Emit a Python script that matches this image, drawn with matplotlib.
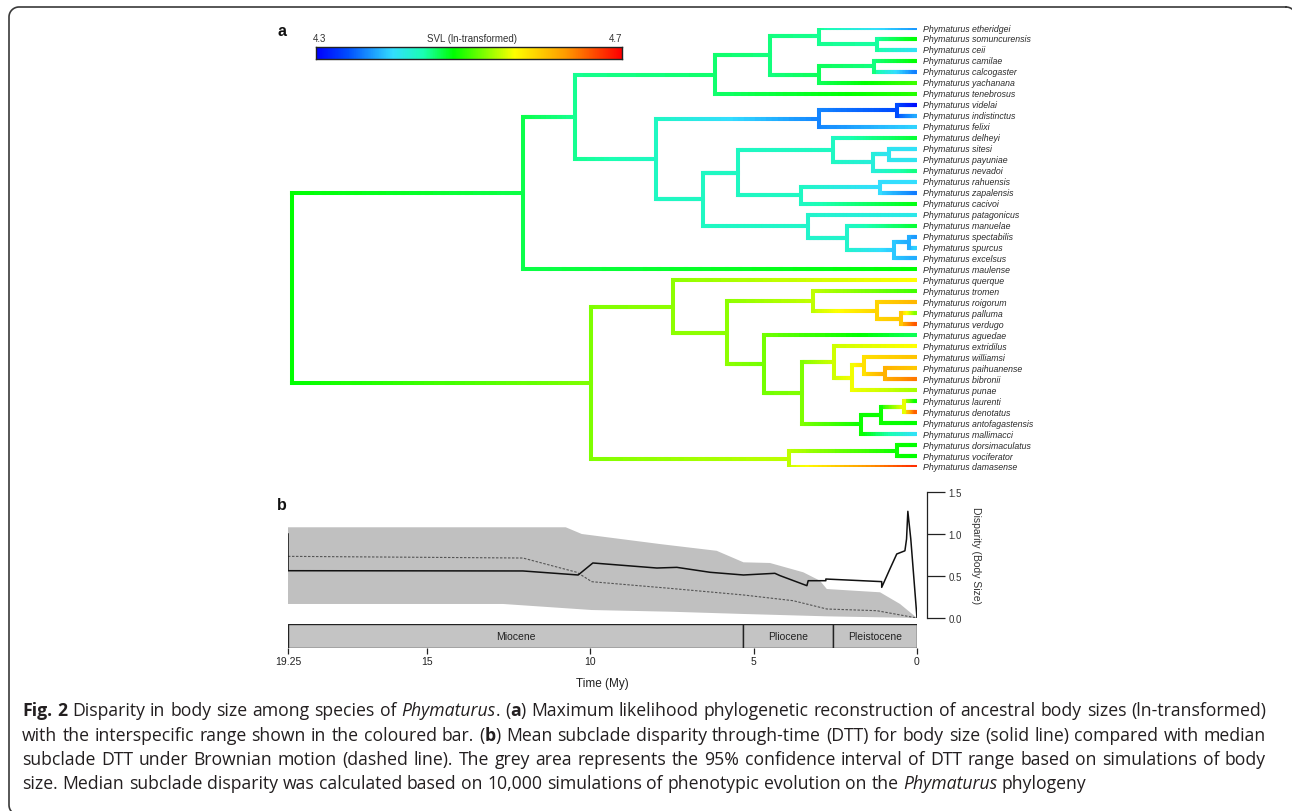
import numpy as np
import matplotlib
matplotlib.use("Agg")
import matplotlib.pyplot as plt
from matplotlib.collections import LineCollection
from matplotlib.colors import LinearSegmentedColormap, Normalize

plt.rcParams['font.family'] = ['Liberation Sans', 'DejaVu Sans']

W, H = 1292, 812

# ---------------- panel a : tree ----------------
tips = ["etheridgei", "somuncurensis", "ceii", "camilae", "calcogaster", "yachanana",
        "tenebrosus", "videlai", "indistinctus", "felixi", "delheyi", "sitesi", "payuniae",
        "nevadoi", "rahuensis", "zapalensis", "cacivoi", "patagonicus", "manuelae",
        "spectabilis", "spurcus", "excelsus", "maulense", "querque", "tromen", "roigorum",
        "palluma", "verdugo", "aguedae", "extridilus", "williamsi", "paihuanense",
        "bibronii", "punae", "laurenti", "denotatus", "antofagastensis", "mallimacci",
        "dorsimaculatus", "vociferator", "damasense"]
tip_svl = [4.372, 4.48, 4.404, 4.48, 4.36, 4.50, 4.492, 4.308, 4.38, 4.396, 4.468,
           4.404, 4.408, 4.452, 4.40, 4.36, 4.476, 4.412, 4.468, 4.372, 4.396, 4.38,
           4.48, 4.56, 4.50, 4.608, 4.52, 4.66, 4.46, 4.56, 4.60, 4.596, 4.644, 4.532,
           4.48, 4.66, 4.48, 4.404, 4.48, 4.48, 4.68]

# internal nodes: name, child 1, child 2, age (My), reconstructed SVL
nodes = [
    ("G", "somuncurensis", "ceii", 1.22, 4.444),
    ("F", "etheridgei", "G", 3.00, 4.448),
    ("I", "camilae", "calcogaster", 1.32, 4.452),
    ("H", "I", "yachanana", 3.00, 4.460),
    ("E", "F", "H", 4.50, 4.452),
    ("D", "E", "tenebrosus", 6.18, 4.456),
    ("L", "videlai", "indistinctus", 0.61, 4.340),
    ("K", "L", "felixi", 3.00, 4.364),
    ("P", "sitesi", "payuniae", 0.86, 4.408),
    ("O", "P", "nevadoi", 1.35, 4.420),
    ("N", "delheyi", "O", 2.57, 4.432),
    ("R", "rahuensis", "zapalensis", 1.13, 4.400),
    ("Q", "R", "cacivoi", 3.55, 4.432),
    ("M", "N", "Q", 5.48, 4.432),
    ("V", "spectabilis", "spurcus", 0.24, 4.380),
    ("U", "V", "excelsus", 0.70, 4.392),
    ("T", "manuelae", "U", 2.14, 4.428),
    ("S", "patagonicus", "T", 3.34, 4.428),
    ("J", "M", "S", 6.55, 4.432),
    ("C", "K", "J", 7.99, 4.432),
    ("B", "D", "C", 10.47, 4.448),
    ("A", "B", "maulense", 12.06, 4.464),
    ("AC", "palluma", "verdugo", 0.49, 4.596),
    ("AB", "roigorum", "AC", 1.22, 4.588),
    ("AA", "tromen", "AB", 3.18, 4.540),
    ("AI", "paihuanense", "bibronii", 0.98, 4.612),
    ("AH", "williamsi", "AI", 1.62, 4.580),
    ("AG", "AH", "punae", 1.99, 4.556),
    ("AF", "extridilus", "AG", 2.54, 4.544),
    ("AL", "laurenti", "denotatus", 0.40, 4.552),
    ("AK", "AL", "antofagastensis", 1.10, 4.484),
    ("AJ", "AK", "mallimacci", 1.71, 4.484),
    ("AE", "AF", "AJ", 3.52, 4.520),
    ("AD", "aguedae", "AE", 4.68, 4.516),
    ("Z", "AA", "AD", 5.81, 4.524),
    ("X", "querque", "Z", 7.47, 4.524),
    ("Y2", "dorsimaculatus", "vociferator", 0.61, 4.484),
    ("Y", "Y2", "damasense", 3.92, 4.540),
    ("W", "X", "Y", 9.98, 4.520),
    ("root", "A", "W", 19.13, 4.480),
]

# ---------------- panel b : DTT ----------------
dtt_time = [19.25, 19.25, 12.06, 10.37, 9.92, 7.96, 7.35, 6.33, 5.31, 4.35, 4.19, 3.37,
            3.33, 2.79, 2.79, 1.08, 1.08, 0.83, 0.62, 0.37, 0.32, 0.28, 0.19, 0.0]
dtt_obs = [1.0, 0.563, 0.56, 0.512, 0.655, 0.595, 0.603, 0.544, 0.512, 0.532, 0.504, 0.385,
           0.444, 0.444, 0.464, 0.433, 0.365, 0.583, 0.762, 0.80, 0.94, 1.27, 0.94, 0.0]
bm_time = [19.25, 12.06, 10.41, 9.95, 7.56, 5.31, 3.79, 2.76, 1.23, 0.0]
bm_median = [0.734, 0.714, 0.544, 0.432, 0.353, 0.274, 0.206, 0.107, 0.087, 0.0]
ci_time_up = [19.25, 10.75, 10.26, 7.86, 6.13, 5.31, 4.5, 3.48, 2.97, 2.76, 1.13, 0.52, 0.0]
ci_up = [1.08, 1.08, 1.0, 0.88, 0.80, 0.663, 0.655, 0.544, 0.444, 0.345, 0.306, 0.167, 0.0]
ci_time_lo = [19.25, 12.67, 9.95, 7.56, 5.31, 2.76, 0.0]
ci_lo = [0.167, 0.167, 0.095, 0.075, 0.048, 0.02, 0.0]

epochs = ["Miocene", "Pliocene", "Pleistocene"]
epoch_start = [19.25, 5.33, 2.58]
epoch_end = [5.33, 2.58, 0.0]
time_ticks = [19.25, 15, 10, 5, 0]

svl_min, svl_max = 4.3, 4.7

cmap = LinearSegmentedColormap.from_list("svl", [
    (0.0, (0.0, 0.0, 1.0)), (0.10, (0.0, 0.3, 1.0)), (0.25, (0.2, 0.87, 1.0)),
    (0.35, (0.1, 1.0, 0.7)), (0.45, (0.0, 1.0, 0.0)), (0.65, (1.0, 1.0, 0.0)),
    (0.82, (1.0, 0.6, 0.0)), (1.0, (1.0, 0.0, 0.0))])
norm = Normalize(svl_min, svl_max)

fig = plt.figure(figsize=(W / 100, H / 100), dpi=100)

# overlay in pixel units for frame / caption
ov = fig.add_axes([0, 0, 1, 1])
ov.set_xlim(0, W)
ov.set_ylim(H, 0)
ov.axis("off")

# rounded figure frame, right and bottom sides fall just outside the canvas
r = 10
x0, y0, x1, y1 = 9, 8, 1296, 816
th = np.linspace(0, np.pi / 2, 20)
fx_, fy_ = [], []
for cx, cy, a0 in [(x1 - r, y0 + r, -np.pi / 2), (x1 - r, y1 - r, 0),
                   (x0 + r, y1 - r, np.pi / 2), (x0 + r, y0 + r, np.pi)]:
    fx_.extend(cx + r * np.cos(a0 + th))
    fy_.extend(cy + r * np.sin(a0 + th))
fx_.append(fx_[0])
fy_.append(fy_[0])
ov.plot(fx_, fy_, color="#3a3a3a", lw=1.2, clip_on=False)


def fx(px):
    return px / W


def fy(py):
    return 1 - py / H


# --- tree
ax = fig.add_axes([fx(288), fy(468), fx(629), (468 - 29) / H])
ax.set_xlim(19.25, 0)
ax.set_ylim(len(tips) - 1, 0)
ax.axis("off")

ypos = {t: i for i, t in enumerate(tips)}
age = {t: 0.0 for t in tips}
val = dict(zip(tips, tip_svl))
for name, c1, c2, a, v in nodes:
    ypos[name] = (ypos[c1] + ypos[c2]) / 2
    age[name] = a
    val[name] = v

hsegs, hvals, vsegs, vvals = [], [], [], []
for name, c1, c2, a, v in nodes:
    for c in (c1, c2):
        xs = np.linspace(a, age[c], 30)
        vs = np.linspace(v, val[c], 30)
        for k in range(len(xs) - 1):
            hsegs.append([(xs[k], ypos[c]), (xs[k + 1], ypos[c])])
            hvals.append((vs[k] + vs[k + 1]) / 2)
    vsegs.append([(a, ypos[c1]), (a, ypos[c2])])
    vvals.append(v)

lc = LineCollection(hsegs, cmap=cmap, norm=norm, linewidths=2.9, capstyle="projecting")
lc.set_array(np.array(hvals))
ax.add_collection(lc)
lc2 = LineCollection(vsegs, cmap=cmap, norm=norm, linewidths=2.9, capstyle="projecting")
lc2.set_array(np.array(vvals))
ax.add_collection(lc2)

for t in tips:
    ax.annotate("Phymaturus " + t, (0, ypos[t]), xytext=(4, 0), textcoords="offset points",
                va="center", ha="left", fontsize=6.3, fontstyle="italic", color="#2a2a2a",
                family=["Liberation Sans Narrow", "Liberation Sans"], annotation_clip=False)

# --- colour bar
cax = fig.add_axes([fx(316), fy(60), fx(306), 12 / H])
cax.imshow(np.linspace(svl_min, svl_max, 400)[None, :], cmap=cmap, norm=norm,
           extent=[svl_min, svl_max, 0, 1], aspect="auto")
cax.set_xticks([])
cax.set_yticks([])
for s in cax.spines.values():
    s.set_linewidth(1.0)
    s.set_color("#222222")
cax.text(0.013, 1.35, "%.1f" % svl_min, transform=cax.transAxes, ha="center", va="bottom",
         fontsize=7, color="#333333")
cax.text(0.51, 1.35, "SVL (ln-transformed)", transform=cax.transAxes, ha="center",
         va="bottom", fontsize=7, color="#333333")
cax.text(0.98, 1.35, "%.1f" % svl_max, transform=cax.transAxes, ha="center", va="bottom",
         fontsize=7, color="#333333")

ov.text(277, 36, "a", fontsize=11.5, fontweight="bold", va="baseline", color="#111111")
ov.text(277, 510, "b", fontsize=11.5, fontweight="bold", va="baseline", color="#111111")

# --- DTT
bx = fig.add_axes([fx(288), fy(619), fx(629), 126 / H])
bx.set_xlim(19.25, 0)
bx.set_ylim(0, 1.5)
bx.fill(np.concatenate([ci_time_up, ci_time_lo[::-1]]),
        np.concatenate([ci_up, ci_lo[::-1]]), color="#c0c0c0", lw=0)
bx.plot(bm_time, bm_median, color="#555555", lw=0.8, ls=(0, (2.2, 1.4)))
bx.plot(dtt_time, dtt_obs, color="#111111", lw=1.1)
for s in ("left", "top", "bottom"):
    bx.spines[s].set_visible(False)
bx.spines["right"].set_position(("outward", 7.2))
bx.spines["right"].set_bounds(0, 1.5)
bx.spines["right"].set_linewidth(0.9)
bx.spines["right"].set_color("#222222")
bx.set_xticks([])
bx.yaxis.tick_right()
bx.set_yticks([0, 0.5, 1.0, 1.5])
bx.set_yticklabels(["0.0", "0.5", "1.0", "1.5"])
bx.tick_params(axis="y", length=13, width=0.9, color="#222222", pad=2.5, labelsize=7,
               labelcolor="#333333")
bx.yaxis.set_label_position("right")
bx.set_ylabel("Disparity (Body Size)", rotation=270, fontsize=7.5, color="#333333",
              labelpad=14)

# --- epochs
ex = fig.add_axes([fx(288), fy(649), fx(629), 24 / H])
ex.set_xlim(19.25, 0)
ex.set_ylim(0, 1)
ex.barh(0.5, [s - e for s, e in zip(epoch_start, epoch_end)], left=epoch_end, height=1,
        color="#c4c4c4", edgecolor="#222222", lw=1.0)
for n, s, e in zip(epochs, epoch_start, epoch_end):
    ex.text((s + e) / 2, 0.5, n, ha="center", va="center", fontsize=7.5, color="#222222")
for s in ex.spines.values():
    s.set_visible(False)
ex.set_yticks([])
ex.set_xticks(time_ticks)
ex.set_xticklabels(["19.25", "15", "10", "5", "0"])
ex.tick_params(axis="x", length=4.5, width=0.9, color="#222222", pad=1, labelsize=7.5,
               labelcolor="#222222")
ex.set_xlabel("Time (My)", fontsize=8.5, color="#222222", labelpad=8)

# ---------------- caption ----------------
caption = [
    ([("Fig. 2", "b"), (" Disparity in body size among species of ", "n"), ("Phymaturus", "i"),
      (". (", "n"), ("a", "b"),
      (") Maximum likelihood phylogenetic reconstruction of ancestral body sizes (ln-transformed)", "n")], True),
    ([("with the interspecific range shown in the coloured bar. (", "n"), ("b", "b"),
      (") Mean subclade disparity through-time (DTT) for body size (solid line) compared with median", "n")], True),
    ([("subclade DTT under Brownian motion (dashed line). The grey area represents the 95% "
       "confidence interval of DTT range based on simulations of body", "n")], True),
    ([("size. Median subclade disparity was calculated based on 10,000 simulations of "
       "phenotypic evolution on the ", "n"), ("Phymaturus", "i"), (" phylogeny", "n")], False),
]
cap_baselines = [716, 741, 765, 789]
cap_left, cap_right, last_right = 22, 1266, 1090

renderer = fig.canvas.get_renderer()


def make_words(runs, y, fs):
    words, cur = [], []
    for text, style in runs:
        for k, part in enumerate(text.split(" ")):
            if k > 0 and cur:
                words.append(cur)
                cur = []
            if part:
                t = ov.text(0, y, part, fontsize=fs, family="Open Sans", color="#231f20",
                            fontweight="bold" if style == "b" else "normal",
                            fontstyle="italic" if style == "i" else "normal", va="baseline")
                cur.append((t, t.get_window_extent(renderer).width))
    if cur:
        words.append(cur)
    return words


def space_width(fs):
    a = ov.text(0, 0, "a a", fontsize=fs, family="Open Sans")
    b = ov.text(0, 0, "aa", fontsize=fs, family="Open Sans")
    w = a.get_window_extent(renderer).width - b.get_window_extent(renderer).width
    a.remove()
    b.remove()
    return w


# fit caption size to the last line
probe = make_words(caption[3][0], 0, 10)
wsum = sum(w for word in probe for _, w in word) + space_width(10) * (len(probe) - 1)
for word in probe:
    for t, _ in word:
        t.remove()
cap_fs = 10 * (last_right - cap_left) / wsum
sp = space_width(cap_fs)

for (runs, justify), yb in zip(caption, cap_baselines):
    words = make_words(runs, yb, cap_fs)
    total = sum(w for word in words for _, w in word)
    gap = (cap_right - cap_left - total) / (len(words) - 1) if justify else sp
    x = cap_left
    for word in words:
        for t, w in word:
            t.set_x(x)
            x += w
        x += gap

fig.savefig("out.png", dpi=100)
